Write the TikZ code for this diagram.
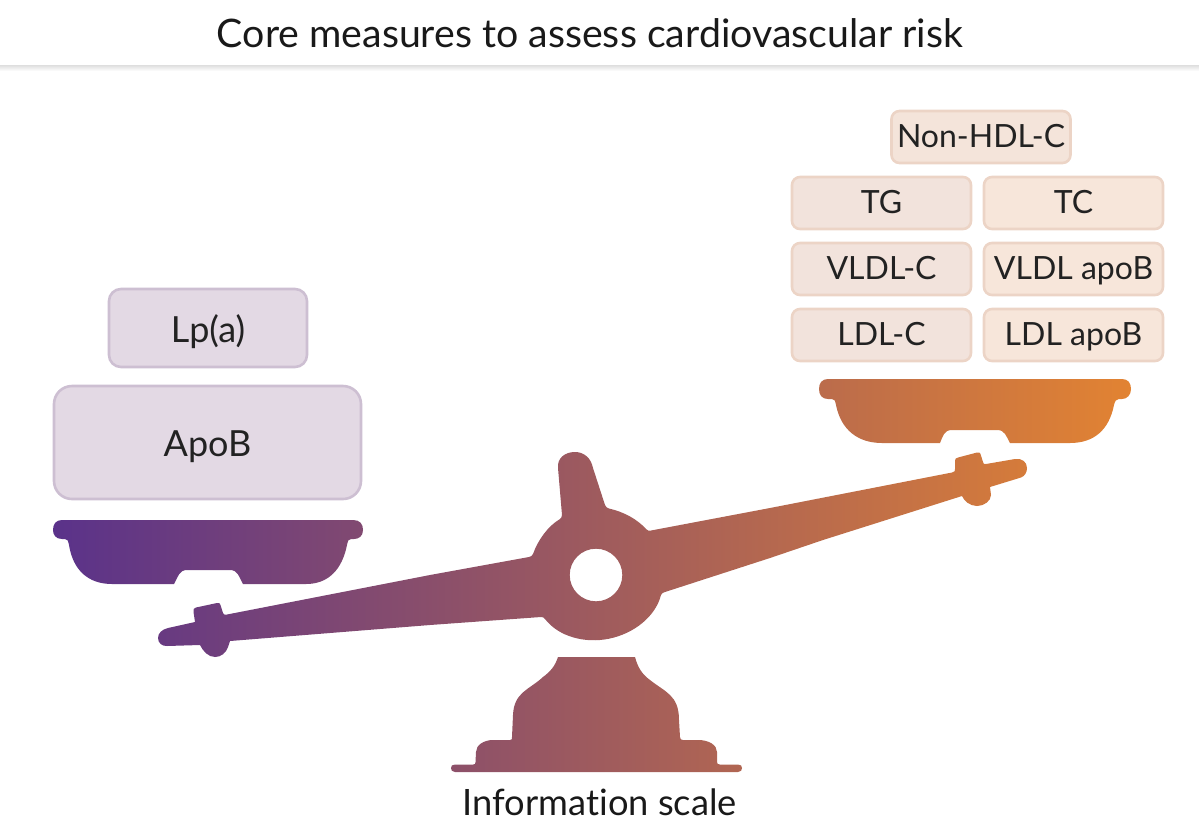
\documentclass[tikz,border=0pt]{standalone}
\usepackage{fontspec}
\setmainfont{Lato}[Ligatures=NoCommon]
\definecolor{txt}{HTML}{222222}
\definecolor{pL}{HTML}{E3D9E4}
\definecolor{pB}{HTML}{CDBFD2}
\definecolor{oL}{HTML}{F2E3DC}
\definecolor{oM}{HTML}{F4E4DA}
\definecolor{oR}{HTML}{F7E6DA}
\definecolor{oB}{HTML}{ECD4C6}
\definecolor{gL}{RGB}{90,50,138}
\definecolor{gM}{RGB}{157,90,88}
\definecolor{gR}{RGB}{226,131,50}
\tikzset{
 lab/.style={inner sep=0pt,outer sep=0pt,text=txt},
 obox/.style={lab,font=\fontsize{32}{32}\selectfont,text height=26pt,text depth=6pt,draw=oB,line width=2.6pt,rounded corners=8pt,fill=#1,minimum width=179pt,minimum height=52pt},
 pbox/.style={lab,font=\fontsize{36}{36}\selectfont,text height=33pt,text depth=5pt,draw=pB,line width=2.6pt,fill=pL},
}
\begin{document}
\begin{tikzpicture}[x=1pt,y=-1pt]
\useasboundingbox (0,0) rectangle (1199,839);
% header
\shade[top color=black!13,bottom color=white] (0,65) rectangle (1199,71);
\node[text=black!90,font=\fontsize{39.3}{39.3}\selectfont] (title) at (590,33) {Core measures to assess cardiovascular risk};
% boxes
\node[obox=oM] (nonhdl) at (981,137) {Non-HDL-C};
\node[obox=oL] (tg) at (881.5,203) {TG};
\node[obox=oR] (tc) at (1073.5,203) {TC};
\node[obox=oL] (vc) at (881.5,269) {VLDL-C};
\node[obox=oR] (va) at (1073.5,269) {VLDL apoB};
\node[obox=oL] (lc) at (881.5,335) {LDL-C};
\node[obox=oR] (la) at (1073.5,335) {LDL apoB};
\node[pbox,rounded corners=12pt,minimum width=198pt,minimum height=78pt] (lp) at (208,328) {Lp(a)};
\node[pbox,rounded corners=18pt,minimum width=307pt,minimum height=113pt] (ab) at (207.5,442.5) {ApoB};
% scale: one gradient through all its parts
\begin{scope}[even odd rule]
\clip
 % left pan
 (62,520) -- (353,520) .. controls (360,520) and (363,524) .. (363,530)
 .. controls (363,536) and (359,539) .. (354,539) -- (351,539)
 .. controls (348,539) and (348,541) .. (347,545)
 .. controls (342,570) and (328,584) .. (306,584) -- (243,584)
 .. controls (239,577) and (238,570) .. (230,570) -- (187,570)
 .. controls (179,570) and (178,577) .. (174,584) -- (112,584)
 .. controls (88,584) and (73,570) .. (69,545)
 .. controls (68,541) and (68,539) .. (65,539) -- (62,539)
 .. controls (56,539) and (53,535) .. (53,530)
 .. controls (53,524) and (56,520) .. (62,520) -- cycle
 % right pan
 (828,379) -- (1122,379) .. controls (1128,379) and (1131,383) .. (1131,389)
 .. controls (1131,395) and (1127,399) .. (1122,399) -- (1119,399)
 .. controls (1116,399) and (1115,401) .. (1114,405)
 .. controls (1109,430) and (1094,443) .. (1070,443) -- (1010,443)
 .. controls (1006,436) and (1005,430) .. (997,430) -- (952,430)
 .. controls (944,430) and (943,436) .. (940,443) -- (882,443)
 .. controls (858,443) and (841,430) .. (836,405)
 .. controls (835,401) and (835,399) .. (832,399) -- (828,399)
 .. controls (822,399) and (819,395) .. (819,389)
 .. controls (819,383) and (822,379) .. (828,379) -- cycle
 % beam, post and hub
 (168,628) -- (195,622) -- (193.5,612) .. controls (193,609) and (194,608) .. (196,607.5)
 -- (217,603) .. controls (219,602.5) and (220,603) .. (220.5,605) -- (223,613)
 .. controls (223.5,615) and (225,615) .. (227,614.5) -- (430,575) -- (529,557)
 .. controls (531,556.5) and (532,556) .. (533,554)
 .. controls (538,540) and (548,526) .. (560,519)
 .. controls (561,518) and (562,517) .. (562,515)
 -- (558,468) .. controls (557,458) and (565,452) .. (575,452)
 .. controls (584,452) and (591,458) .. (593,468) -- (605,505)
 .. controls (606,507) and (607,508) .. (609,508.5)
 .. controls (624,512) and (637,519) .. (646,529)
 .. controls (648,531) and (649,531) .. (651,530.5)
 -- (770,508) -- (952,472.5) .. controls (955,472) and (955,471) .. (955,469) -- (955,461)
 .. controls (955,459) and (955.5,458) .. (958,457.5) -- (977,452.5)
 .. controls (979,452) and (980,452.5) .. (980.5,454) -- (983,462)
 .. controls (983.5,464) and (984,464.5) .. (986,464) -- (1015,459)
 .. controls (1022,458) and (1027,462) .. (1027,468)
 .. controls (1027,472) and (1025,476) .. (1021,477.5) -- (990,487)
 -- (991,495) .. controls (991,501) and (984,506) .. (977,506)
 .. controls (970,506) and (964,501) .. (962,496)
 -- (823,540) -- (770,558) -- (665,592)
 .. controls (663,592.5) and (662,593) .. (661,595)
 .. controls (655.4,617) and (633.4,633.7) .. (609,638.7)
 .. controls (584.6,643.7) and (558.5,636.5) .. (545,619)
 .. controls (544,617.5) and (543,617) .. (541,617)
 -- (430,625) -- (230,641) -- (228,647)
 .. controls (226,653) and (221,657) .. (215,657)
 .. controls (208,657) and (203,651) .. (200,645)
 -- (167,646) .. controls (162,646.3) and (158,643) .. (158,638)
 .. controls (158,633) and (162,629.5) .. (168,628) -- cycle
 (596,575) circle[radius=26.3]
 % base
 (558,657) -- (635,657) .. controls (638,668) and (642,674) .. (650,680)
 .. controls (665,692) and (679,695) .. (679,720) -- (680,737)
 .. controls (680,739) and (681,740) .. (683,740) -- (698,740)
 .. controls (709,740) and (717,745) .. (717,752) -- (717,762)
 .. controls (717,764) and (718,764.5) .. (720,764.5) -- (738,764.5)
 .. controls (741,764.5) and (742,766) .. (742,768)
 .. controls (742,770) and (741,772) .. (738,772) -- (455,772)
 .. controls (452,772) and (451,770) .. (451,768)
 .. controls (451,766) and (452,764.5) .. (455,764.5) -- (473,764.5)
 .. controls (475,764.5) and (475.5,764) .. (475.5,762) -- (476,752)
 .. controls (476,745) and (484,740) .. (493,740) -- (510,740)
 .. controls (512,740) and (512,739) .. (512,737) -- (513,715)
 .. controls (514,692) and (529,690) .. (543,677)
 .. controls (551,671) and (555,666) .. (558,657) -- cycle;
\shade[left color=gL,middle color=gM,right color=gR] (52,370) rectangle (1131,780);
\end{scope}
\node[text=black!90,font=\fontsize{36.3}{36.3}\selectfont] (cap) at (600,802) {Information scale};
\end{tikzpicture}
\end{document}
